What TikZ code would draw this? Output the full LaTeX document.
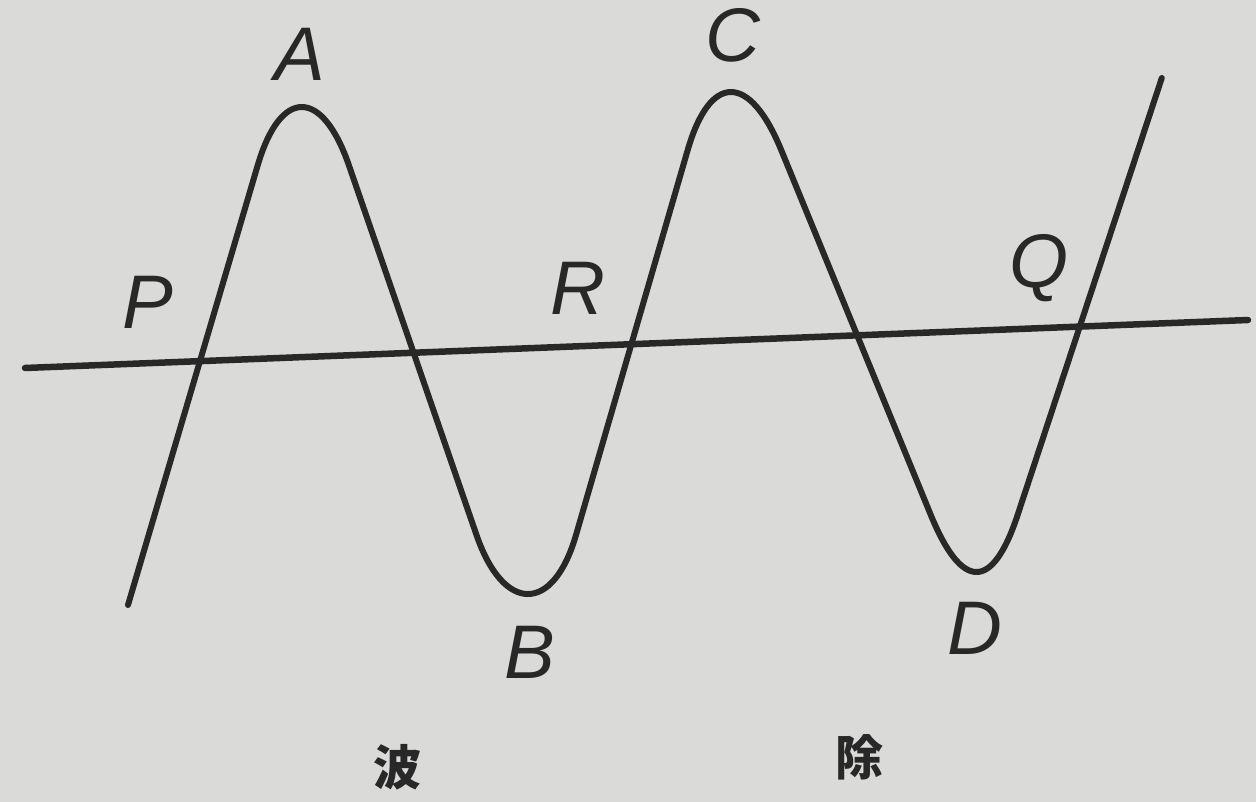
\documentclass[tikz,border=0pt]{standalone}
\usepackage{fontspec}
\setmainfont{Liberation Sans}
\newfontfamily\cjkfont{Noto Sans CJK JP}
\definecolor{paper}{RGB}{218,218,216}
\definecolor{ink}{RGB}{40,40,40}
\begin{document}
\begin{tikzpicture}[x=1pt,y=-1pt,
  curve/.style={draw=ink,line width=6pt,line cap=round,line join=round},
  lbl/.style={text=ink,inner sep=0pt,font=\fontsize{76}{76}\selectfont\itshape},
  cjk/.style={text=ink,inner sep=0pt,font=\fontsize{48}{48}\selectfont\cjkfont\bfseries}]
\fill[paper] (0,0) rectangle (1256,802);
\useasboundingbox (0,0) rectangle (1256,802);
% horizontal axis
\coordinate (h1) at (25,368);
\coordinate (h2) at (1248,320);
\draw[curve,line width=6.5pt] (h1) -- (h2);
% wave
\draw[curve] (128,605) -- (257.8,165)
  .. controls (280.6,87.7) and (322,87.7) .. (348.8,165)
  -- (476.5,535)
  .. controls (503.7,613.7) and (553.2,613.7) .. (576,535)
  -- (687.7,150)
  .. controls (710.1,72.7) and (749.5,72.7) .. (781.2,150)
  -- (930.8,515)
  .. controls (962,591) and (992.5,591) .. (1017.6,515)
  -- (1161.8,78);
% labels
\node[lbl] (A) at (300,54) {A};
\node[lbl] (C) at (733,35) {C};
\node[lbl] (P) at (148,302) {P};
\node[lbl] (R) at (578,288) {R};
\node[lbl] (Q) at (1039,268) {Q};
\node[lbl] (B) at (530,652) {B};
\node[lbl] (D) at (975,628) {D};
\node[cjk] (w1) at (397,767) {波};
\node[cjk] (w2) at (859,757) {除};
\end{tikzpicture}
\end{document}
